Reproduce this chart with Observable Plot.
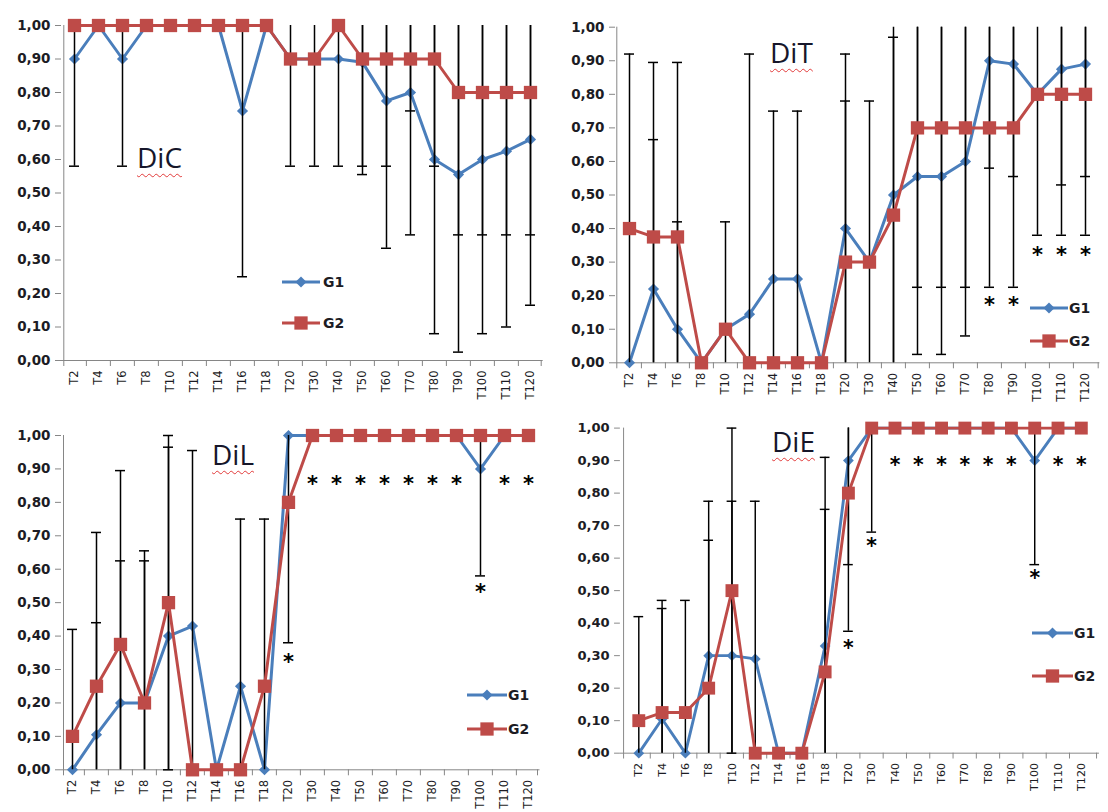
<!DOCTYPE html>
<html><head><meta charset="utf-8">
<script src="https://cdn.jsdelivr.net/npm/d3@7"></script>
<script src="https://cdn.jsdelivr.net/npm/@observablehq/plot@0.6"></script>
<style>
html,body{margin:0;padding:0;background:#fff;overflow:hidden;width:1108px;height:812px;}
#root{position:relative;width:1108px;height:812px;overflow:hidden;}
.panel{position:absolute;}
.lbl{position:absolute;font-family:"Open Sans";font-size:28px;line-height:28px;color:#16162a;text-decoration:underline wavy #e23b3b;text-decoration-thickness:1px;text-underline-offset:5px;white-space:nowrap;}
#legend{position:absolute;left:0;top:0;pointer-events:none;}
</style></head><body><div id="root"></div>
<script>
// ---------- data ----------
const categories = ["T2","T4","T6","T8","T10","T12","T14","T16","T18","T20","T30","T40","T50","T60","T70","T80","T90","T100","T110","T120"];
const yTicks = [0, 0.1, 0.2, 0.3, 0.4, 0.5, 0.6, 0.7, 0.8, 0.9, 1];
const yTickLabels = ["0,00","0,10","0,20","0,30","0,40","0,50","0,60","0,70","0,80","0,90","1,00"];
const seriesNames = ["G1", "G2"];
const panelNames = ["DiC", "DiT", "DiL", "DiE"];

// DiC
const dicG1 = [0.90,1.00,0.90,1.00,1.00,1.00,1.00,0.745,1.00,0.90,0.90,0.90,0.89,0.775,0.80,0.60,0.555,0.60,0.625,0.66];
const dicG2 = [1.00,1.00,1.00,1.00,1.00,1.00,1.00,1.00,1.00,0.90,0.90,1.00,0.90,0.90,0.90,0.90,0.80,0.80,0.80,0.80];
const dicErr1 = [0.32,null,0.32,null,null,null,null,0.495,null,0.32,0.32,0.32,0.335,0.44,0.425,0.52,0.53,0.52,0.525,0.495];
const dicErr2 = [null,null,null,null,null,null,null,null,null,null,null,null,0.32,0.32,0.155,0.32,0.425,0.425,0.425,0.425];
const dicStarT = [];
const dicStarY = [];

// DiT
const ditG1 = [0,0.22,0.10,0,0.10,0.145,0.25,0.25,0,0.40,0.30,0.50,0.555,0.555,0.60,0.90,0.89,0.80,0.875,0.89];
const ditG2 = [0.40,0.375,0.375,0,0.10,0,0,0,0,0.30,0.30,0.44,0.70,0.70,0.70,0.70,0.70,0.80,0.80,0.80];
const ditErr1 = [0.92,0.445,0.32,null,0.32,0.775,0.50,0.50,null,0.52,null,0.55,0.53,0.53,0.52,0.32,0.335,null,0.345,0.335];
const ditErr2 = [null,0.52,0.52,null,null,null,null,null,null,0.48,0.48,0.53,0.475,0.475,0.475,0.475,0.475,0.42,0.42,0.42];
const ditStarT = ["T80","T90","T100","T110","T120"];
const ditStarY = [0.186,0.186,0.335,0.335,0.335];

// DiL
const dilG1 = [0,0.105,0.20,0.20,0.40,0.43,0,0.25,0,1.00,1,1,1,1,1,1,1,0.90,1,1];
const dilG2 = [0.10,0.25,0.375,0.20,0.50,0,0,0,0.25,0.80,1,1,1,1,1,1,1,1,1,1];
const dilErr1 = [0.42,0.335,0.425,0.455,0.565,0.525,null,0.50,null,0.62,null,null,null,null,null,null,null,0.32,null,null];
const dilErr2 = [null,0.46,0.52,0.425,0.50,null,null,null,0.50,null,null,null,null,null,null,null,null,null,null,null];
const dilStarT = ["T20","T30","T40","T50","T60","T70","T80","T90","T100","T110","T120"];
const dilStarY = [0.337,0.87,0.87,0.87,0.87,0.87,0.87,0.87,0.546,0.87,0.87];

// DiE
const dieG1 = [0,0.105,0,0.30,0.30,0.29,0,0,0.33,0.90,1,1,1,1,1,1,1,0.90,1,1];
const dieG2 = [0.10,0.125,0.125,0.20,0.50,0,0,0,0.25,0.80,1,1,1,1,1,1,1,1,1,1];
const dieErr1 = [0.42,0.34,null,0.475,0.475,0.485,null,null,0.58,0.32,0.32,null,null,null,null,null,null,0.32,null,null];
const dieErr2 = [null,0.345,0.345,0.455,0.50,null,null,null,0.50,0.425,null,null,null,null,null,null,null,null,null,null];
const dieStarT = ["T20","T30","T40","T50","T60","T70","T80","T90","T100","T110","T120"];
const dieStarY = [0.338,0.65,0.90,0.90,0.90,0.90,0.90,0.90,0.552,0.90,0.90];

// ---------- styles / layout ----------
const BLUE = "#4a7ebb", RED = "#be4b48", GRAY = "#868686", INK = "#1c1c24";
const layouts = [
  {left:0,   top:0,   width:548, height:405, axisX:61,  c0:71.7,  c1:532,    yTop:25,    yBottom:360,
   lab:{x:137, base:168}, leg:{x0:282, x1:320, y:282, gap:41, tx:323}},
  {left:550, top:0,   width:558, height:405, axisX:615, c0:627.7, c1:1086.7, yTop:26.7,  yBottom:362.3,
   lab:{x:770, base:63},  leg:{x0:1030, x1:1068, y:308, gap:33, tx:1069}},
  {left:0,   top:405, width:548, height:407, axisX:61,  c0:70,    c1:530.5,  yTop:435,   yBottom:769.3,
   lab:{x:212, base:465}, leg:{x0:467, x1:507, y:695, gap:34, tx:508}},
  {left:550, top:405, width:575, height:407, axisX:622, c0:637.7, c1:1100,   yTop:428.3, yBottom:763.3,
   lab:{x:772, base:452}, leg:{x0:1032, x1:1073, y:633, gap:43, tx:1074}}
];
const panelData = [
  {g1: dicG1, g2: dicG2, e1: dicErr1, e2: dicErr2, sT: dicStarT, sY: dicStarY},
  {g1: ditG1, g2: ditG2, e1: ditErr1, e2: ditErr2, sT: ditStarT, sY: ditStarY},
  {g1: dilG1, g2: dilG2, e1: dilErr1, e2: dilErr2, sT: dilStarT, sY: dilStarY},
  {g1: dieG1, g2: dieG2, e1: dieErr1, e2: dieErr2, sT: dieStarT, sY: dieStarY}
];
const R_DIAMOND = 5, R_SQUARE = 7.5;

const root = document.getElementById("root");

function drawPanel(L, D) {
  const n = categories.length;
  const step = (L.c1 - L.c0) / (n - 1);
  const pad = (L.c0 - L.axisX) / step;
  const right = L.c1 + pad * step;
  const innerH = L.yBottom - L.yTop;
  const rows = categories.map((t, i) => ({t, g1: D.g1[i], g2: D.g2[i]}));
  const errs = [];
  categories.forEach((t, i) => {
    if (D.e1[i] != null) errs.push({t, v: D.g1[i], e: D.e1[i]});
    if (D.e2[i] != null) errs.push({t, v: D.g2[i], e: D.e2[i]});
  });
  const caps = [];
  errs.forEach(d => {
    [d.v - d.e, d.v + d.e].forEach(y => { if (y >= -1e-6 && y <= 1 + 1e-6) caps.push({t: d.t, y}); });
  });
  const stars = D.sT.map((t, i) => ({t, y: D.sY[i]}));
  const svg = Plot.plot({
    width: L.width, height: L.height,
    marginLeft: L.axisX - L.left,
    marginRight: L.left + L.width - right,
    marginTop: L.yTop - L.top,
    marginBottom: L.top + L.height - L.yBottom,
    style: {background: "transparent", overflow: "visible", fontFamily: "DejaVu Sans"},
    x: {type: "point", domain: categories, padding: pad, axis: null},
    y: {domain: [0, 1], axis: null},
    marks: [
      Plot.ruleY([0], {stroke: GRAY}),
      Plot.ruleX([categories[0]], {x: d => d, dx: -pad * step, insetBottom: -6, stroke: GRAY}),
      Plot.ruleX(categories.slice(1), {x: d => d, dx: -step / 2, insetTop: innerH, insetBottom: -6, stroke: GRAY}),
      Plot.ruleX([categories[n - 1]], {x: d => d, dx: pad * step, insetTop: innerH, insetBottom: -6, stroke: GRAY}),
      Plot.axisY({ticks: yTicks, tickFormat: d => yTickLabels[yTicks.indexOf(d)], tickSize: 6, tickPadding: 5,
        stroke: GRAY, fill: INK, fontSize: 13.5, fontWeight: "bold", label: null}),
      Plot.axisX({tickSize: 0, tickPadding: 10, tickRotate: -90, fill: INK, fontSize: 11.5, label: null}),
      Plot.line(rows, {x: "t", y: "g1", stroke: BLUE, strokeWidth: 3, strokeLinejoin: "round"}),
      Plot.dot(rows, {x: "t", y: "g1", symbol: "diamond2", r: R_DIAMOND, fill: BLUE}),
      Plot.ruleX(errs, {x: "t", y1: d => d.v - d.e, y2: d => d.v + d.e, stroke: "black", strokeWidth: 1.5, clip: true}),
      Plot.ruleY(caps, {y: "y", x1: "t", x2: "t", insetLeft: -5, insetRight: -5, stroke: "black", strokeWidth: 1.5}),
      Plot.line(rows, {x: "t", y: "g2", stroke: RED, strokeWidth: 3, strokeLinejoin: "round"}),
      Plot.dot(rows, {x: "t", y: "g2", symbol: "square", r: R_SQUARE, fill: RED}),
      Plot.text(stars, {x: "t", y: "y", text: () => "*", fontSize: 21, fontWeight: "bold", fill: "black", dy: 5})
    ]
  });
  const wrap = document.createElement("div");
  wrap.className = "panel";
  wrap.style.left = L.left + "px";
  wrap.style.top = L.top + "px";
  wrap.appendChild(svg);
  root.appendChild(wrap);
}

layouts.forEach((L, i) => drawPanel(L, panelData[i]));

// panel labels
layouts.forEach((L, i) => {
  const d = document.createElement("div");
  d.className = "lbl";
  d.textContent = panelNames[i];
  d.style.left = L.lab.x + "px";
  d.style.top = (L.lab.base - 25) + "px";
  root.appendChild(d);
});

// legends
const leg = d3.create("svg").attr("id", "legend").attr("width", 1108).attr("height", 812);
const colors = [BLUE, RED];
const syms = [d3.symbol(d3.symbolDiamond2, Math.PI * R_DIAMOND * R_DIAMOND), d3.symbol(d3.symbolSquare, Math.PI * R_SQUARE * R_SQUARE)];
layouts.forEach(L => {
  seriesNames.forEach((name, k) => {
    const y = L.leg.y + k * L.leg.gap;
    leg.append("line").attr("x1", L.leg.x0).attr("x2", L.leg.x1).attr("y1", y).attr("y2", y)
      .attr("stroke", colors[k]).attr("stroke-width", 3);
    leg.append("path").attr("d", syms[k]()).attr("fill", colors[k])
      .attr("transform", `translate(${(L.leg.x0 + L.leg.x1) / 2},${y})`);
    leg.append("text").attr("x", L.leg.tx).attr("y", y).attr("dy", "0.36em")
      .attr("font-family", "DejaVu Sans").attr("font-weight", "bold").attr("font-size", 14)
      .attr("fill", INK).text(name);
  });
});
root.appendChild(leg.node());
</script></body></html>
